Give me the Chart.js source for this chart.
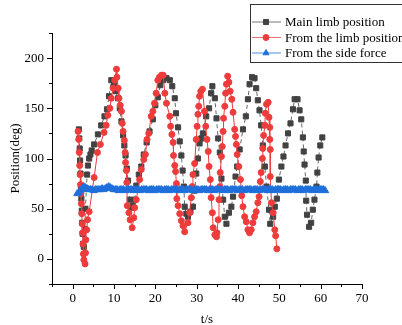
<!DOCTYPE html>
<html>
<head>
<meta charset="utf-8">
<title>Position</title>
<script src="https://cdn.jsdelivr.net/npm/chart.js@4.4.1/dist/chart.umd.min.js"></script>
<style>
  html, body { margin: 0; padding: 0; background: #fff; }
  #wrap { width: 402px; height: 325px; position: relative; }
</style>
</head>
<body>
<div id="wrap"><canvas id="chart"></canvas></div>
<script>
// Main limb position (black squares)
const mainTime = [1.5, 1.6, 1.7, 1.8, 1.9, 2.0, 2.1, 2.2, 2.3, 2.4, 2.5, 2.7, 2.9, 3.1, 3.3, 3.5, 3.7, 4.0, 4.3, 4.6,
  5.2, 6.1, 6.9, 7.7, 8.3, 8.8, 9.35, 10.0, 10.4, 11.0, 11.4, 11.8, 12.2, 12.5, 12.8, 13.1, 13.4, 13.8, 14.2, 14.6,
  15.0, 15.4, 16.0, 16.6, 17.2, 17.9, 18.6, 19.4, 20.0, 20.6, 21.2, 21.9, 22.7, 23.5, 24.1, 24.7, 25.0, 25.5, 25.9, 26.3,
  26.6, 26.9, 27.1, 27.5, 27.9, 28.5, 29.1, 29.5, 29.9, 30.3, 30.7, 31.1, 31.5, 32.3, 33.0, 33.5, 33.8, 34.4, 34.8, 35.2,
  35.6, 36.0, 36.4, 36.8, 37.2, 37.8, 38.4, 38.8, 39.4, 39.8, 40.4, 41.2, 41.9, 42.4, 42.8, 43.4, 44.0, 44.4, 44.8, 45.2,
  45.6, 46.0, 46.5, 46.9, 47.5, 47.8, 48.5, 48.9, 49.4, 49.9, 50.5, 51.0, 51.5, 52.1, 52.7, 53.3, 53.7, 54.4, 54.9, 55.3,
  55.7, 55.9, 56.1, 56.4, 56.5, 56.7, 57.2, 57.7, 58.1, 58.5, 59.0, 59.2, 59.5, 59.9, 60.4];
const mainPos = [129, 120, 110, 98, 85, 72, 60, 48, 36, 25, 15, 12, 30, 50, 70, 84, 93, 100, 104, 108,
  114, 124, 133, 142, 149, 162, 178, 174, 167, 160, 150, 137, 123, 113, 103, 90, 78, 59, 51, 53,
  59, 73, 84, 92, 104, 116, 127, 139, 153, 161, 173, 178, 180, 178, 172, 160, 145, 131, 117, 103,
  88, 72, 52, 45, 42, 47, 52, 68, 85, 100, 115, 120, 125, 142, 150, 165, 172, 160, 140, 120,
  106, 80, 59, 42, 35, 46, 52, 62, 82, 92, 109, 129, 142, 159, 174, 181, 180, 170, 158, 148,
  133, 113, 92, 72, 49, 35, 42, 52, 60, 79, 92, 102, 113, 125, 135, 149, 159, 159, 148, 139,
  121, 107, 94, 78, 58, 44, 32, 36, 49, 59, 72, 86, 101, 113, 121];

// From the limb position (red circles)
const fromTime = [1.3, 1.45, 1.6, 1.7, 1.8, 1.9, 2.0, 2.1, 2.2, 2.3, 2.4, 2.5, 2.6, 2.7, 3.0, 3.1, 3.2, 3.4, 3.6, 4.0,
  5.2, 6.0, 6.7, 7.6, 8.1, 8.5, 9.0, 9.35, 9.8, 10.2, 10.6, 10.7, 11.0, 11.2, 11.5, 11.8, 12.0, 12.2, 12.5, 12.7,
  12.8, 13.0, 13.1, 13.2, 13.6, 13.9, 14.4, 14.8, 15.0, 15.4, 15.8, 16.2, 16.6, 17.2, 17.6, 18.0, 18.4, 19.0, 19.4, 19.8,
  20.2, 20.6, 21.0, 21.5, 21.9, 22.3, 22.7, 23.5, 23.7, 24.0, 24.3, 24.4, 24.7, 24.9, 25.1, 25.2, 25.5, 25.9, 26.3, 26.7,
  27.1, 27.9, 28.3, 28.7, 28.9, 29.1, 29.5, 29.9, 30.1, 30.3, 30.5, 30.7, 31.0, 31.4, 31.9, 32.2, 32.5, 32.8, 33.0, 33.3,
  33.5, 33.8, 34.0, 34.4, 34.8, 34.9, 35.2, 35.4, 35.6, 35.7, 36.0, 36.2, 36.4, 36.5, 36.8, 37.0, 37.2, 37.5, 37.8, 38.1,
  38.5, 38.8, 39.2, 39.4, 39.6, 39.8, 40.2, 40.6, 40.9, 41.2, 41.6, 42.0, 42.4, 42.8, 43.2, 43.6, 44.0, 44.4, 44.8, 45.1,
  45.4, 45.6, 45.9, 46.0, 46.2, 46.5, 46.6, 46.9, 47.3, 47.5, 47.7, 47.7, 47.8, 47.8, 48.1, 48.5, 48.9, 49.1, 49.4];
const fromPos = [127, 119, 106, 93, 84, 74, 65, 55, 45, 35, 26, 15, 5, -1, -5, 6, 19, 29, 39, 47,
  81, 106, 114, 126, 133, 143, 150, 160, 170, 178, 189, 181, 170, 160, 153, 147, 135, 127, 118, 106,
  96, 88, 76, 53, 46, 39, 31, 41, 51, 59, 69, 79, 89, 99, 104, 119, 125, 142, 147, 155,
  165, 178, 181, 183, 183, 165, 155, 142, 132, 124, 116, 103, 93, 87, 75, 60, 53, 45, 38, 33,
  27, 36, 46, 61, 72, 84, 95, 119, 132, 144, 152, 162, 167, 169, 147, 132, 119, 107, 92, 79,
  61, 46, 31, 24, 22, 26, 39, 59, 72, 86, 102, 112, 127, 140, 152, 165, 174, 182, 176, 167,
  159, 146, 129, 122, 114, 104, 92, 79, 63, 52, 42, 37, 29, 26, 29, 36, 42, 47, 56, 62,
  77, 86, 100, 110, 123, 133, 145, 154, 156, 141, 131, 119, 109, 82, 56, 46, 29, 23, 10];

// From the side force (blue triangles)
const sideTime = [1.1, 1.5, 1.9, 2.3, 2.7, 3.1, 3.5, 3.9, 4.3, 4.7, 5.1, 5.5, 5.9, 6.3, 6.7, 7.1, 7.5, 7.9, 8.3, 8.7,
  9.1, 9.5, 9.9, 10.3, 10.7, 11.1, 11.5, 11.9, 12.3, 12.7, 13.1, 13.5, 13.9, 14.3, 14.7, 15.1, 15.5, 15.9, 16.3, 16.7,
  17.1, 17.5, 17.9, 18.3, 18.7, 19.1, 19.5, 19.9, 20.3, 20.7, 21.1, 21.5, 21.9, 22.3, 22.7, 23.1, 23.5, 23.9, 24.3, 24.7,
  25.1, 25.5, 25.9, 26.3, 26.7, 27.1, 27.5, 27.9, 28.3, 28.7, 29.1, 29.5, 29.9, 30.3, 30.7, 31.1, 31.5, 31.9, 32.3, 32.7,
  33.1, 33.5, 33.9, 34.3, 34.7, 35.1, 35.5, 35.9, 36.3, 36.7, 37.1, 37.5, 37.9, 38.3, 38.7, 39.1, 39.5, 39.9, 40.3, 40.7,
  41.1, 41.5, 41.9, 42.3, 42.7, 43.1, 43.5, 43.9, 44.3, 44.7, 45.1, 45.5, 45.9, 46.3, 46.7, 47.1, 47.5, 47.9, 48.3, 48.7,
  49.1, 49.5, 49.9, 50.3, 50.7, 51.1, 51.5, 51.9, 52.3, 52.7, 53.1, 53.5, 53.9, 54.3, 54.7, 55.1, 55.5, 55.9, 56.3, 56.7,
  57.1, 57.5, 57.9, 58.3, 58.7, 59.1, 59.5, 59.9, 60.3, 60.7, 61.1];
const sideForce = [65, 66, 68, 70, 72, 71, 70, 69, 69, 69, 68, 69, 69, 69, 69, 70, 69, 70, 71, 72,
  71, 70, 69, 69, 69, 68, 69, 69, 69, 68, 69, 69, 69, 69, 68, 69, 69, 69, 68, 69,
  69, 69, 69, 68, 69, 69, 69, 68, 69, 69, 69, 69, 68, 69, 69, 69, 68, 69, 69, 69,
  69, 68, 69, 69, 69, 68, 69, 69, 69, 69, 68, 69, 69, 69, 68, 69, 69, 69, 69, 68,
  69, 69, 69, 68, 69, 69, 69, 69, 68, 69, 69, 69, 68, 69, 69, 69, 69, 68, 69, 69,
  69, 68, 69, 69, 69, 69, 68, 69, 69, 69, 68, 69, 69, 69, 69, 68, 69, 69, 69, 68,
  69, 69, 69, 69, 68, 69, 69, 69, 68, 69, 69, 69, 69, 68, 69, 69, 69, 68, 69, 69,
  69, 69, 68, 69, 69, 69, 68, 69, 69, 69, 68];

const xTicks = [0, 10, 20, 30, 40, 50, 60, 70];
const yTicks = [0, 50, 100, 150, 200];

const fontFamily = '"Liberation Serif", "Times New Roman", serif';

function toPoints(xs, ys) {
  return xs.map((x, i) => ({ x: x, y: ys[i] }));
}

// outward ticks, long on labelled values and short in between
const tickMarks = {
  id: 'tickMarks',
  afterDraw(chart) {
    const ctx = chart.ctx;
    const xs = chart.scales.x;
    const ys = chart.scales.y;
    ctx.save();
    ctx.strokeStyle = '#000';
    ctx.lineWidth = 1;
    ctx.beginPath();
    for (let v = xs.min; v <= xs.max; v += 5) {
      const px = Math.round(xs.getPixelForValue(v)) + 0.5;
      const len = xTicks.includes(v) ? 5 : 3;
      ctx.moveTo(px, xs.top);
      ctx.lineTo(px, xs.top + len);
    }
    for (let v = ys.min; v <= ys.max; v += 25) {
      const py = Math.round(ys.getPixelForValue(v)) + 0.5;
      const len = yTicks.includes(v) ? 5 : 3;
      ctx.moveTo(ys.right, py);
      ctx.lineTo(ys.right - len, py);
    }
    ctx.stroke();
    ctx.restore();
  }
};

// framed legend in the top right corner, line plus marker per series
const legendBox = {
  id: 'legendBox',
  afterDraw(chart) {
    const ctx = chart.ctx;
    ctx.save();
    ctx.fillStyle = '#fff';
    ctx.fillRect(250.5, 4.5, 160, 58);
    ctx.strokeStyle = '#333';
    ctx.lineWidth = 1;
    ctx.strokeRect(250.5, 4.5, 160, 58);
    chart.data.datasets.forEach((ds, i) => {
      const y = 22 + i * 15.5;
      ctx.strokeStyle = ds.legendColor;
      ctx.lineWidth = 1;
      ctx.setLineDash([]);
      ctx.beginPath();
      ctx.moveTo(252, y);
      ctx.lineTo(281, y);
      ctx.stroke();
      ctx.fillStyle = ds.pointBackgroundColor;
      ctx.strokeStyle = ds.pointBorderColor;
      Chart.helpers.drawPoint(ctx, {
        pointStyle: ds.pointStyle,
        radius: ds.legendRadius,
        borderWidth: 1,
        rotation: 0
      }, 266, y);
      ctx.fillStyle = '#000';
      ctx.font = '13px ' + fontFamily;
      ctx.textBaseline = 'middle';
      ctx.textAlign = 'left';
      ctx.fillText(ds.label, 285, y + 1);
    });
    ctx.restore();
  }
};

const ctx = document.getElementById('chart').getContext('2d');

new Chart(ctx, {
  type: 'scatter',
  data: {
    datasets: [{
      label: 'Main limb position',
      data: toPoints(mainTime, mainPos),
      showLine: true,
      borderColor: '#666',
      borderWidth: 1,
      borderDash: [4, 3],
      pointStyle: 'rect',
      pointRadius: 3.6,
      pointBorderWidth: 1,
      pointBackgroundColor: '#424242',
      pointBorderColor: '#424242',
      legendColor: '#777',
      legendRadius: 3.6,
      order: 3
    }, {
      label: 'From the limb position',
      data: toPoints(fromTime, fromPos),
      showLine: true,
      borderColor: '#ee3b3b',
      borderWidth: 1,
      pointStyle: 'circle',
      pointRadius: 3,
      pointBorderWidth: 1,
      pointBackgroundColor: '#ee3b3b',
      pointBorderColor: '#ee3b3b',
      legendColor: '#f07070',
      legendRadius: 3,
      order: 2
    }, {
      label: 'From the side force',
      data: toPoints(sideTime, sideForce),
      showLine: true,
      borderColor: '#1f6fdb',
      borderWidth: 2,
      pointStyle: 'triangle',
      pointRadius: 4,
      pointBorderWidth: 1,
      pointBackgroundColor: '#1f6fdb',
      pointBorderColor: '#1f6fdb',
      legendColor: '#4d8fe6',
      legendRadius: 3.5,
      order: 1
    }]
  },
  options: {
    responsive: true,
    maintainAspectRatio: false,
    animation: false,
    events: [],
    layout: { padding: { left: 0, top: 33, right: 40, bottom: 0 } },
    plugins: {
      legend: { display: false },
      tooltip: { enabled: false }
    },
    scales: {
      x: {
        type: 'linear',
        min: -5,
        max: 70,
        afterFit: function(scale) { scale.height = 41; },
        grid: { display: true, drawOnChartArea: false, drawTicks: false },
        border: { display: true, color: '#000', width: 1 },
        ticks: {
          stepSize: 5,
          autoSkip: false,
          maxRotation: 0,
          padding: 7,
          color: '#000',
          font: { family: fontFamily, size: 13 },
          callback: function(v) { return xTicks.includes(v) ? String(v) : ''; }
        },
        title: {
          display: true,
          text: 't/s',
          color: '#000',
          padding: { top: 0, bottom: -2 },
          font: { family: fontFamily, size: 13 }
        }
      },
      y: {
        type: 'linear',
        min: -25,
        max: 225,
        afterFit: function(scale) { scale.width = 52; },
        grid: { display: true, drawOnChartArea: false, drawTicks: false },
        border: { display: true, color: '#000', width: 1 },
        ticks: {
          stepSize: 25,
          autoSkip: false,
          padding: 8,
          color: '#000',
          font: { family: fontFamily, size: 13 },
          callback: function(v) { return yTicks.includes(v) ? String(v) : ''; }
        },
        title: {
          display: true,
          text: 'Position(deg)',
          color: '#000',
          padding: { top: 8, bottom: 0 },
          font: { family: fontFamily, size: 13 }
        }
      }
    }
  },
  plugins: [tickMarks, legendBox]
});
</script>
</body>
</html>
